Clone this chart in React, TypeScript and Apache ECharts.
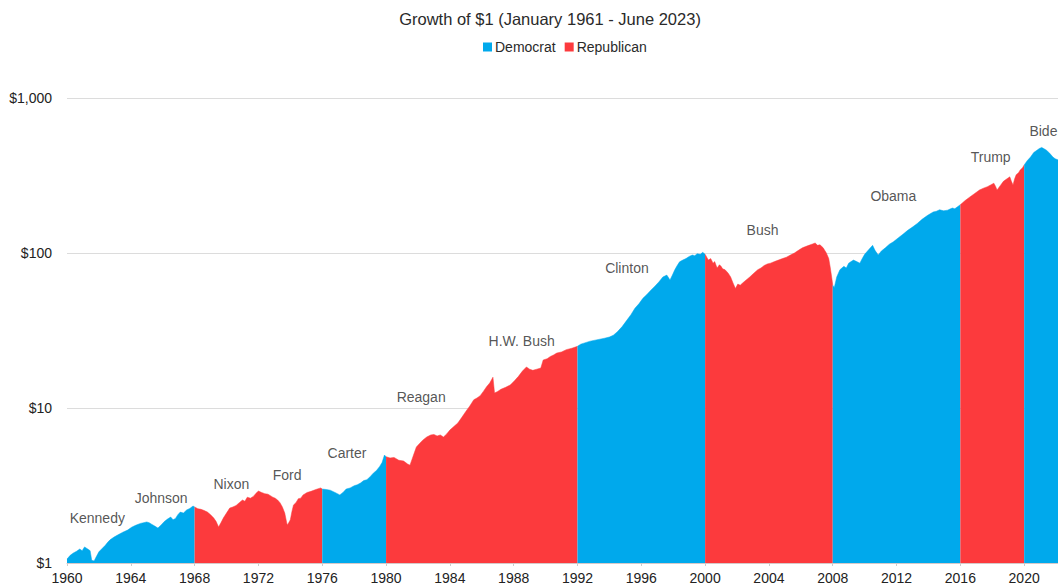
import React, { useEffect, useRef } from "react";
import * as echarts from "echarts";

const dates = [
  1960.0, 1960.2, 1960.4, 1960.6, 1960.8, 1960.95, 1961.1, 1961.25, 1961.35, 1961.45, 1961.55, 1961.7, 1961.8,
  1962.0, 1962.2, 1962.4, 1962.55, 1962.7, 1962.95, 1963.2, 1963.5, 1963.8, 1964.05, 1964.3, 1964.6, 1965.0, 1965.15, 1965.3, 1965.5, 1965.7, 1965.9, 1966.1,
  1966.3, 1966.5, 1966.65, 1966.8, 1966.95, 1967.1, 1967.3, 1967.5, 1967.7, 1967.9, 1968.0, 1968.2, 1968.4, 1968.6, 1968.8, 1969.0, 1969.2, 1969.35, 1969.5,
  1969.65, 1969.8, 1970.0, 1970.2, 1970.4, 1970.6, 1970.8, 1971.0, 1971.15, 1971.3, 1971.5, 1971.7, 1971.85, 1972.0, 1972.2, 1972.4, 1972.6, 1972.9, 1973.05, 1973.2,
  1973.35, 1973.5, 1973.65, 1973.8, 1973.9, 1974.0, 1974.1, 1974.2, 1974.35, 1974.5, 1974.65, 1974.8, 1975.05, 1975.3, 1975.6, 1975.9, 1976.0, 1976.25, 1976.5,
  1976.8, 1977.1, 1977.3, 1977.5, 1977.75, 1978.0, 1978.2, 1978.4, 1978.6, 1978.8, 1979.0, 1979.2, 1979.4, 1979.6, 1979.75, 1979.9, 1980.0, 1980.25,
  1980.5, 1980.8, 1981.1, 1981.35, 1981.5, 1981.7, 1981.9, 1982.1, 1982.3, 1982.55, 1982.8, 1983.0, 1983.2, 1983.4, 1983.6, 1983.8, 1984.0, 1984.25, 1984.5, 1984.75, 1985.0,
  1985.25, 1985.5, 1985.7, 1985.9, 1986.1, 1986.3, 1986.5, 1986.7, 1986.8, 1987.0, 1987.2, 1987.5, 1987.8, 1988.05, 1988.3, 1988.55, 1988.8, 1989.0, 1989.2,
  1989.45, 1989.7, 1989.85, 1990.1, 1990.3, 1990.5, 1990.7, 1991.0, 1991.3, 1991.65, 1992.0, 1992.2, 1992.4, 1992.6, 1992.8, 1993.1, 1993.4, 1993.7, 1994.0,
  1994.25, 1994.5, 1994.8, 1995.1, 1995.35, 1995.6, 1995.85, 1996.1, 1996.35, 1996.6, 1996.85, 1997.1, 1997.35, 1997.6, 1997.8, 1997.95, 1998.1, 1998.25, 1998.4,
  1998.6, 1998.8, 1999.0, 1999.2, 1999.35, 1999.5, 1999.7, 1999.85, 2000.0, 2000.1, 2000.2, 2000.35, 2000.5, 2000.6, 2000.75, 2000.9, 2001.0, 2001.1, 2001.25,
  2001.45, 2001.6, 2001.75, 2001.9, 2002.05, 2002.2, 2002.35, 2002.5, 2002.65, 2002.8, 2003.05, 2003.3, 2003.5, 2003.7, 2003.9, 2004.1, 2004.35, 2004.6, 2004.85, 2005.1,
  2005.35, 2005.6, 2005.85, 2006.1, 2006.3, 2006.5, 2006.7, 2006.9, 2007.05, 2007.2, 2007.4, 2007.6, 2007.75, 2007.85, 2007.95, 2008.0, 2008.1, 2008.25,
  2008.45, 2008.7, 2008.85, 2009.0, 2009.15, 2009.3, 2009.5, 2009.7, 2009.85, 2010.0, 2010.25, 2010.5, 2010.65, 2010.85, 2011.05, 2011.3, 2011.55, 2011.8, 2012.1, 2012.4,
  2012.7, 2013.0, 2013.3, 2013.6, 2013.95, 2014.3, 2014.5, 2014.7, 2014.95, 2015.2, 2015.35, 2015.5, 2015.65, 2015.8, 2016.0, 2016.3, 2016.6, 2016.9, 2017.2,
  2017.45, 2017.7, 2017.9, 2018.1, 2018.2, 2018.3, 2018.5, 2018.7, 2018.9, 2019.1, 2019.2, 2019.3, 2019.4, 2019.5, 2019.65, 2019.75, 2019.9, 2020.0, 2020.2, 2020.4,
  2020.6, 2020.8, 2020.95, 2021.1, 2021.25, 2021.4, 2021.6, 2021.8, 2021.95, 2022.1, 2022.3, 2022.5,
];

const values = [
  1.06, 1.12, 1.16, 1.19, 1.23, 1.2, 1.27, 1.24, 1.22, 1.2, 1.04, 1.03, 1.08,
  1.18, 1.24, 1.3, 1.36, 1.41, 1.47, 1.52, 1.58, 1.63, 1.7, 1.75, 1.8, 1.84, 1.82, 1.78, 1.73, 1.68, 1.76, 1.85,
  1.92, 1.98, 1.9, 1.94, 2.05, 2.13, 2.1, 2.2, 2.25, 2.33, 2.3, 2.24, 2.22, 2.18, 2.13, 2.05, 1.95, 1.85, 1.71,
  1.82, 1.95, 2.1, 2.26, 2.3, 2.35, 2.45, 2.55, 2.5, 2.66, 2.62, 2.7, 2.82, 2.91, 2.85, 2.8, 2.78, 2.66, 2.62, 2.55,
  2.45, 2.3, 2.1, 1.76, 1.82, 1.9, 2.15, 2.37, 2.45, 2.6, 2.62, 2.75, 2.85, 2.9, 2.98, 3.05, 3.0, 2.98, 2.95,
  2.85, 2.75, 2.85, 3.0, 3.05, 3.15, 3.2, 3.28, 3.4, 3.45, 3.6, 3.8, 3.95, 4.2, 4.45, 4.97, 4.85, 4.76,
  4.8, 4.6, 4.55, 4.35, 4.28, 4.9, 5.6, 5.9, 6.2, 6.5, 6.7, 6.75, 6.6, 6.7, 6.5, 6.8, 7.2, 7.6, 8.0, 8.7, 9.5,
  10.3, 11.3, 11.6, 12.0, 12.8, 13.7, 14.5, 15.8, 12.5, 12.8, 13.2, 13.6, 14.1, 15.0, 16.0, 17.3, 18.4, 17.8, 17.5,
  17.8, 18.1, 20.4, 20.8, 21.5, 22.0, 22.6, 23.0, 23.8, 24.3, 25.0, 25.8, 26.2, 26.6, 27.0, 27.4, 27.8, 28.2, 28.7,
  29.5, 31, 33.5, 36.9, 40, 44, 47, 51, 54, 57.6, 61, 65, 70, 72, 67, 72, 78, 83, 87.7,
  90, 92, 95, 97, 96, 99, 98, 101, 98, 94, 90, 92, 86, 88, 80, 84, 82, 79, 78,
  74, 70, 64, 59, 63, 62, 64, 66, 68, 70, 74, 78, 80, 83, 85, 86, 88, 90, 92, 94,
  97, 100, 104, 108, 110, 112, 114, 116, 112, 113, 108, 100, 92, 80, 68, 62, 60, 70,
  78, 82, 80, 86, 88, 90, 88, 86, 92, 98, 105, 112, 104, 97, 103, 108, 114, 118, 125, 132,
  140, 147, 155, 165, 175, 184, 186, 190, 187, 189, 192, 195, 193, 198, 205, 218, 230, 242, 255,
  262, 268, 275, 282, 270, 255, 272, 290, 300, 310, 290, 275, 300, 320, 330, 343, 355, 370, 395, 416,
  445, 460, 472, 480, 470, 460, 440, 416, 405, 400, 410, 420,
];

// Presidential terms (axis years) and party
const termStarts = [1960, 1968, 1976, 1980, 1992, 2000, 2008, 2016, 2020];
const termEnds = [1968, 1976, 1980, 1992, 2000, 2008, 2016, 2020, 2022.5];
const termParties = ["Democrat", "Republican", "Democrat", "Republican", "Democrat", "Republican", "Democrat", "Republican", "Democrat"];

const presidentNames = ["Kennedy", "Johnson", "Nixon", "Ford", "Carter", "Reagan", "H.W. Bush", "Clinton", "Bush", "Obama", "Trump", "Biden"];
const presidentLabelX = [1961.9, 1965.9, 1970.3, 1973.8, 1977.55, 1982.2, 1988.5, 1995.1, 2003.6, 2011.8, 2017.9, 2021.45];
const presidentLabelY = [1.95, 2.63, 3.23, 3.7, 5.12, 11.8, 27.0, 80.3, 141, 233, 417, 612];

const yTicks = [1, 10, 100, 1000];

const partyColors: Record<string, string> = {
  Democrat: "#00a9ec",
  Republican: "#fc3a3d",
};

const FONT = "Liberation Sans, Arial, sans-serif";

export default function App() {
  const ref = useRef<HTMLDivElement>(null);

  useEffect(() => {
    if (!ref.current) return;
    const chart = echarts.init(ref.current, null, { renderer: "svg" });

    const areaSeries = termStarts.map((s, i) => {
      const e = termEnds[i];
      const data: [number, number][] = [];
      dates.forEach((d, j) => {
        if (d >= s - 1e-9 && d <= e + 1e-9) data.push([d, values[j]]);
      });
      const party = termParties[i];
      return {
        name: party,
        type: "line",
        data,
        showSymbol: false,
        symbol: "none",
        color: partyColors[party],
        lineStyle: { width: 0.5, color: partyColors[party] },
        areaStyle: { color: partyColors[party], opacity: 1, origin: "start" },
        silent: true,
        z: 2,
      };
    });

    const labelSeries = {
      type: "scatter",
      name: "labels",
      symbolSize: 0,
      data: presidentNames.map((n, i) => ({ value: [presidentLabelX[i], presidentLabelY[i]], name: n })),
      label: {
        show: true,
        position: "inside",
        formatter: (p: any) => p.name,
        color: "#2a2a2a",
        fontSize: 14,
        fontFamily: FONT,
      },
      silent: true,
      z: 5,
    };

    chart.setOption({
      animation: false,
      backgroundColor: "#fff",
      title: {
        text: "Growth of $1 (January 1961 - June 2023)",
        left: "center",
        top: 5,
        textStyle: {
          fontSize: 16.5,
          fontWeight: "normal",
          color: "#2a2a2a",
          fontFamily: FONT,
        },
      },
      legend: {
        data: ["Democrat", "Republican"],
        top: 35,
        left: 478,
        icon: "rect",
        itemWidth: 9,
        itemHeight: 9,
        itemGap: 9,
        textStyle: {
          fontSize: 14,
          color: "#2a2a2a",
          fontFamily: FONT,
          padding: [0, 0, 0, -2],
        },
      },
      grid: { left: 67, right: 20, top: 98, bottom: 24, containLabel: false },
      xAxis: {
        type: "value",
        min: 1960,
        max: 2023.5,
        interval: 4,
        axisLine: { show: true, lineStyle: { color: "#d6c9c9", width: 1 } },
        axisTick: { show: true, length: 3, lineStyle: { color: "#ccc" } },
        splitLine: { show: false },
        axisLabel: {
          formatter: (v: number) => String(v),
          color: "#222",
          fontSize: 14,
          margin: 8,
          showMaxLabel: false,
          fontFamily: FONT,
        },
      },
      yAxis: {
        type: "log",
        logBase: 10,
        min: yTicks[0],
        max: yTicks[yTicks.length - 1],
        axisLine: { show: false },
        axisTick: { show: false },
        splitLine: { show: true, lineStyle: { color: "#dcdcdc", width: 1 } },
        axisLabel: {
          formatter: (v: number) => "$" + Math.round(v).toLocaleString("en-US"),
          color: "#222",
          fontSize: 14,
          margin: 15,
          fontFamily: FONT,
        },
      },
      series: [...areaSeries, labelSeries],
    });

    return () => chart.dispose();
  }, []);

  return (
    <div style={{ position: "fixed", left: 0, top: 0, width: 1058, height: 587, overflow: "hidden", background: "#fff" }}>
      <div ref={ref} style={{ width: 1100, height: 587 }} />
    </div>
  );
}
